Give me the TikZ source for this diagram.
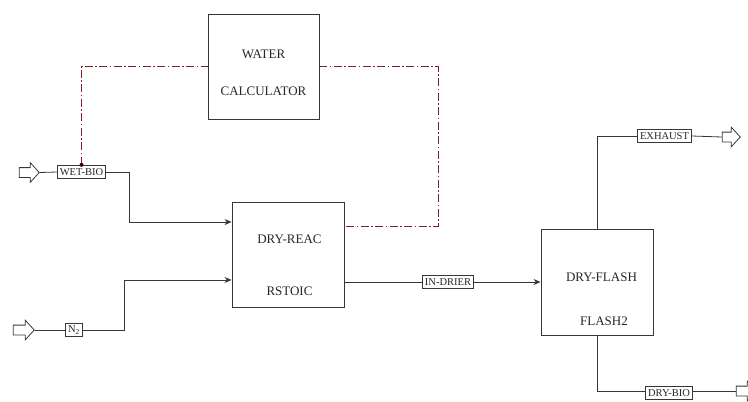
\documentclass[tikz,border=0pt]{standalone}
\usepackage{fontspec}
\setmainfont{Liberation Serif}
\usepackage{tikz}
\usetikzlibrary{arrows.meta,positioning,calc,shapes.arrows}
\definecolor{lineink}{RGB}{55,55,55}
\definecolor{infored}{RGB}{135,25,40}
\tikzset{unit/.style={rectangle, draw=lineink, line width=0.9pt, minimum width=111pt, minimum height=105pt, inner sep=0pt}, unitname/.style={font=\fontsize{13}{15}\selectfont, text=black!85, inner sep=0pt}, tag/.style={rectangle, draw=lineink, line width=0.8pt, font=\fontsize{10.5}{12}\selectfont, inner xsep=2.5pt, inner ysep=0pt, minimum height=13.5pt, text=black!85}, feed/.style={single arrow, draw=lineink, line width=0.8pt, inner xsep=0pt, inner ysep=4.5pt, minimum height=20pt, single arrow head extend=5pt, single arrow tip angle=95}, flow/.style={-{Stealth[length=7pt,width=6pt]}, line width=0.8pt, draw=lineink}, pipe/.style={line width=0.8pt, draw=lineink}, info/.style={line width=0.8pt, draw=infored, dash pattern=on 8pt off 2.5pt on 1.5pt off 2.5pt}}

\begin{document}
\begin{tikzpicture}[x=1pt, y=-1pt]
\clip (0,0) rectangle (748,402);
\node[unit] (water) at (263.5,66.5) {};
\node[unitname] at ([yshift=-41pt]water.north) {WATER};
\node[unitname] at ([yshift=-78pt]water.north) {CALCULATOR};
\node[unit, minimum width=112pt] (reac) at (288,254.5) {};
\node[unitname] at ([xshift=1.5pt,yshift=-38pt]reac.north) {DRY-REAC};
\node[unitname] at ([xshift=1.5pt,yshift=-90pt]reac.north) {RSTOIC};
\node[unit, minimum width=112pt, minimum height=106pt] (flash) at (597,282) {};
\node[unitname] at ([xshift=4.5pt,yshift=-49pt]flash.north) {DRY-FLASH};
\node[unitname] at ([xshift=7pt,yshift=-93pt]flash.north) {FLASH2};
\node[tag] (wetbio) at (81.5,172) {WET-BIO};
\node[tag] (n2) at (74,330) {N\textsubscript{2}};
\node[tag] (indrier) at (448,282) {IN-DRIER};
\node[tag] (exhaust) at (664.5,136) {EXHAUST};
\node[tag] (drybio) at (669,393) {DRY-BIO};
\node[feed] (wetin) at (27,172.5) {};
\node[feed, minimum height=21pt] (n2in) at (21.5,330) {};
\node[feed, minimum height=18pt] (exout) at (729,137) {};
\node[feed] (drybioout) at (744,391) {};
\coordinate (reacin1) at ([yshift=32.5pt]reac.west);
\coordinate (reacin2) at ([yshift=-25.5pt]reac.west);
\coordinate (reacinfo) at ([yshift=28.5pt]reac.east);
% material streams
\draw[pipe] (wetin.east) -- (wetbio.west);
\draw[flow] (wetbio.east) -- ++(23,0) |- (reacin1);
\draw[pipe] (n2in.east) -- (n2.west);
\draw[flow] (n2.east) -- ++(42,0) |- (reacin2);
\draw[pipe] (reac.east |- indrier.west) -- (indrier.west);
\draw[flow] (indrier.east) -- (flash.west |- indrier.east);
\draw[pipe] (flash.north) |- (exhaust.west);
\draw[pipe] (exhaust.east) -- (exout.west);
\draw[pipe] (flash.south) |- ([yshift=2pt]drybio.west);
\draw[pipe] ([yshift=2pt]drybio.east) -- (drybioout.west);
% calculator links
\draw[info] (wetbio.north) |- (water.west);
\draw[info] (water.east) -- ++(119,0) |- (reacinfo);
\fill[black!80!infored] (wetbio.north) circle (2pt);
\end{tikzpicture}
\end{document}
